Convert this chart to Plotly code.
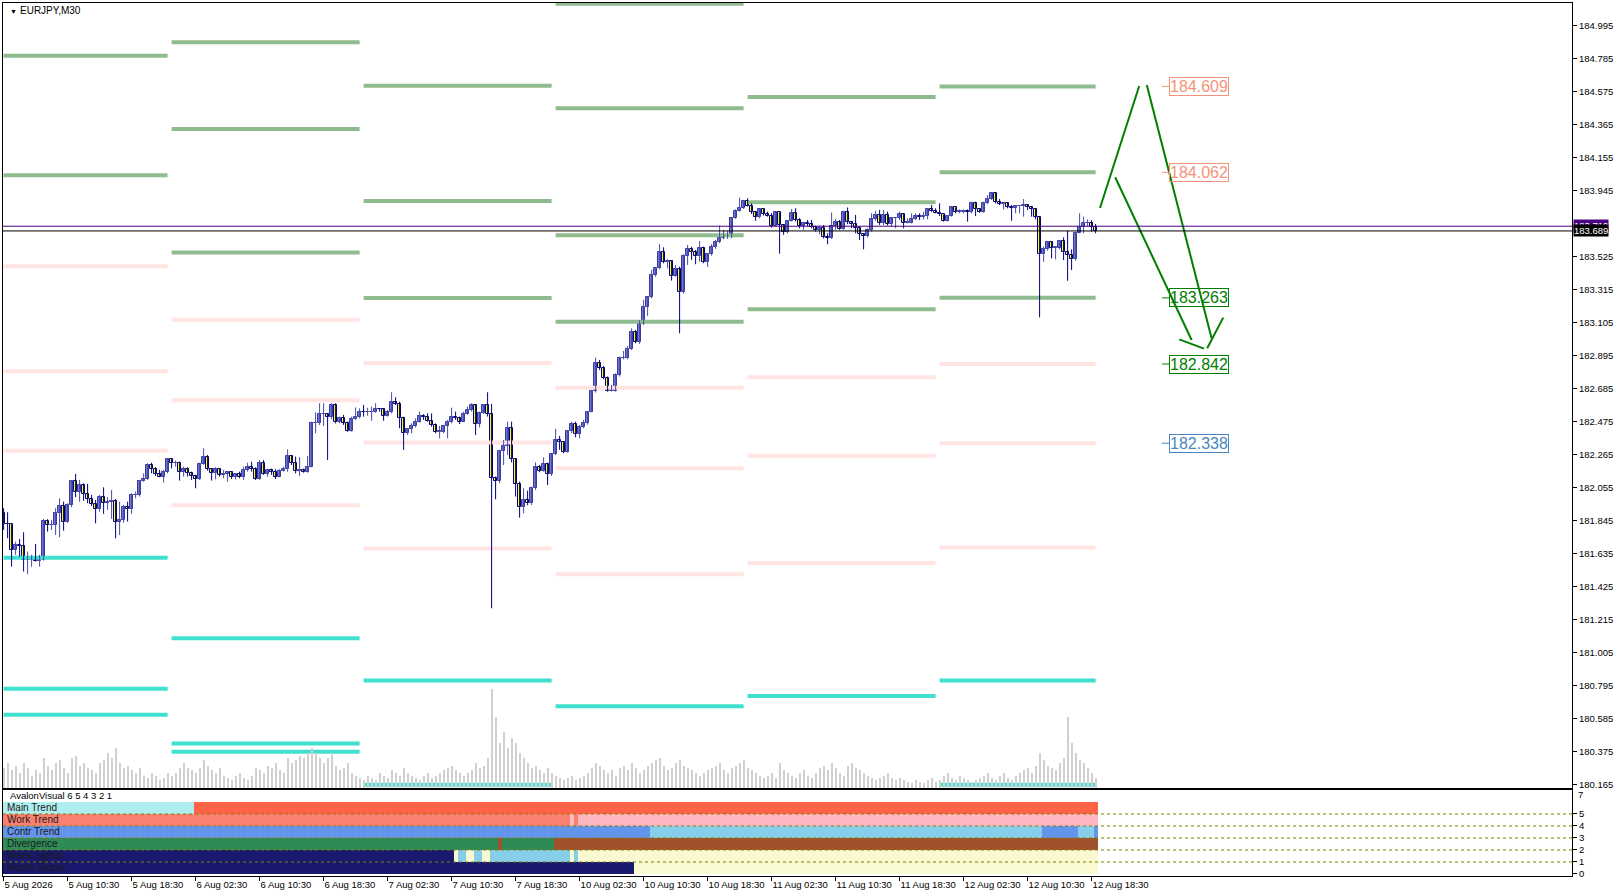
import plotly.graph_objects as go

# ---------------- data ----------------
symbol_title = "EURJPY,M30"
first_open = 181.896

close = [
 181.824, 181.822, 181.658, 181.688, 181.684, 181.595, 181.595, 181.595, 181.588, 181.595,
 181.843, 181.815, 181.815, 181.892, 181.939, 181.839, 181.943, 182.098, 182.026, 182.070,
 182.015, 181.981, 181.951, 181.917, 181.994, 181.956, 181.966, 181.970, 181.839, 181.850,
 181.934, 181.917, 182.009, 182.009, 182.098, 182.108, 182.200, 182.172, 182.140, 182.125,
 182.153, 182.236, 182.210, 182.214, 182.153, 182.172, 182.146, 182.129, 182.108, 182.206,
 182.248, 182.172, 182.146, 182.172, 182.134, 182.140, 182.153, 182.121, 182.140, 182.121,
 182.167, 182.189, 182.176, 182.108, 182.210, 182.142, 182.167, 182.157, 182.125, 182.163,
 182.174, 182.257, 182.214, 182.163, 182.167, 182.157, 182.189, 182.464, 182.464, 182.522,
 182.522, 182.507, 182.581, 182.475, 182.496, 182.464, 182.418, 182.490, 182.507, 182.539,
 182.535, 182.535, 182.539, 182.556, 182.554, 182.513, 182.539, 182.598, 182.588, 182.496,
 182.401, 182.426, 182.448, 182.475, 182.511, 182.507, 182.481, 182.454, 182.411, 182.411,
 182.448, 182.473, 182.503, 182.501, 182.475, 182.522, 182.549, 182.581, 182.458, 182.528,
 182.581, 182.522, 182.114, 182.100, 182.288, 182.320, 182.433, 182.235, 182.076, 181.930,
 181.977, 181.955, 182.055, 182.184, 182.163, 182.206, 182.140, 182.269, 182.358, 182.344,
 182.284, 182.416, 182.460, 182.395, 182.443, 182.469, 182.535, 182.670, 182.847, 182.815,
 182.751, 182.673, 182.673, 182.772, 182.878, 182.878, 182.938, 183.044, 182.984, 183.095,
 183.203, 183.267, 183.409, 183.451, 183.553, 183.490, 183.498, 183.405, 183.445, 183.303,
 183.530, 183.572, 183.558, 183.532, 183.579, 183.494, 183.541, 183.585, 183.617, 183.642,
 183.653, 183.653, 183.770, 183.816, 183.833, 183.880, 183.850, 183.808, 183.776, 183.827,
 183.795, 183.787, 183.723, 183.808, 183.727, 183.685, 183.753, 183.802, 183.759, 183.723,
 183.738, 183.732, 183.717, 183.696, 183.710, 183.653, 183.642, 183.723, 183.749, 183.702,
 183.808, 183.744, 183.732, 183.706, 183.668, 183.657, 183.696, 183.766, 183.791, 183.738,
 183.791, 183.732, 183.770, 183.770, 183.794, 183.741, 183.741, 183.763, 183.784, 183.780,
 183.784, 183.826, 183.818, 183.805, 183.794, 183.754, 183.784, 183.839, 183.811, 183.811,
 183.816, 183.807, 183.864, 183.826, 183.811, 183.864, 183.892, 183.928, 183.875, 183.860,
 183.864, 183.843, 183.833, 183.847, 183.847, 183.854, 183.843, 183.826, 183.775, 183.542,
 183.572, 183.618, 183.582, 183.582, 183.625, 183.557, 183.536, 183.508, 183.674, 183.712,
 183.737, 183.737, 183.712, 183.689,
]

high = [
 181.924, 181.898, 181.815, 181.711, 181.728, 181.771, 181.648, 181.627, 181.697, 181.627,
 181.856, 181.854, 181.850, 181.924, 181.987, 181.966, 181.956, 182.104, 182.142, 182.104,
 182.083, 182.079, 182.009, 181.977, 182.009, 182.057, 181.994, 182.040, 181.983, 181.966,
 181.945, 181.966, 182.019, 182.030, 182.104, 182.146, 182.210, 182.214, 182.185, 182.168,
 182.168, 182.242, 182.242, 182.227, 182.221, 182.189, 182.185, 182.157, 182.136, 182.214,
 182.306, 182.263, 182.178, 182.185, 182.178, 182.168, 182.157, 182.142, 182.146, 182.157,
 182.189, 182.214, 182.220, 182.184, 182.231, 182.231, 182.174, 182.176, 182.172, 182.172,
 182.189, 182.299, 182.263, 182.252, 182.248, 182.176, 182.257, 182.475, 182.535, 182.592,
 182.592, 182.528, 182.592, 182.592, 182.507, 182.518, 182.475, 182.507, 182.566, 182.560,
 182.581, 182.564, 182.571, 182.592, 182.560, 182.560, 182.549, 182.662, 182.630, 182.602,
 182.507, 182.433, 182.464, 182.496, 182.539, 182.522, 182.528, 182.528, 182.464, 182.448,
 182.454, 182.486, 182.564, 182.539, 182.507, 182.539, 182.571, 182.592, 182.586, 182.539,
 182.586, 182.662, 182.588, 182.125, 182.295, 182.358, 182.475, 182.475, 182.242, 182.093,
 182.051, 182.036, 182.061, 182.216, 182.199, 182.248, 182.214, 182.274, 182.429, 182.384,
 182.341, 182.422, 182.475, 182.475, 182.454, 182.486, 182.539, 182.677, 182.883, 182.868,
 182.830, 182.762, 182.709, 182.783, 182.889, 182.925, 182.957, 183.069, 183.059, 183.122,
 183.250, 183.271, 183.441, 183.456, 183.606, 183.585, 183.509, 183.466, 183.473, 183.462,
 183.541, 183.600, 183.589, 183.568, 183.625, 183.589, 183.547, 183.604, 183.632, 183.723,
 183.696, 183.689, 183.774, 183.827, 183.901, 183.887, 183.897, 183.865, 183.812, 183.833,
 183.833, 183.812, 183.802, 183.812, 183.780, 183.732, 183.759, 183.829, 183.833, 183.770,
 183.744, 183.759, 183.759, 183.723, 183.723, 183.727, 183.674, 183.806, 183.766, 183.759,
 183.817, 183.838, 183.749, 183.791, 183.717, 183.674, 183.706, 183.802, 183.817, 183.823,
 183.823, 183.812, 183.776, 183.776, 183.811, 183.801, 183.769, 183.801, 183.801, 183.801,
 183.811, 183.833, 183.854, 183.833, 183.864, 183.794, 183.790, 183.843, 183.839, 183.826,
 183.826, 183.826, 183.875, 183.875, 183.833, 183.875, 183.918, 183.934, 183.934, 183.892,
 183.875, 183.871, 183.854, 183.854, 183.854, 183.892, 183.848, 183.848, 183.833, 183.780,
 183.589, 183.625, 183.625, 183.593, 183.631, 183.648, 183.690, 183.572, 183.684, 183.801,
 183.780, 183.763, 183.758, 183.733,
]

low = [
 181.786, 181.733, 181.552, 181.627, 181.616, 181.521, 181.504, 181.552, 181.584, 181.552,
 181.591, 181.775, 181.786, 181.754, 181.739, 181.781, 181.832, 181.930, 181.994, 181.966,
 181.972, 181.956, 181.939, 181.828, 181.902, 181.888, 181.913, 181.856, 181.733, 181.754,
 181.832, 181.839, 181.888, 181.987, 181.998, 182.093, 182.104, 182.146, 182.129, 182.121,
 182.087, 182.146, 182.178, 182.189, 182.100, 182.125, 182.125, 182.104, 182.051, 182.104,
 182.200, 182.163, 182.100, 182.108, 182.125, 182.115, 182.093, 182.110, 182.108, 182.114,
 182.104, 182.157, 182.157, 182.104, 182.104, 182.136, 182.125, 182.136, 182.110, 182.121,
 182.157, 182.157, 182.199, 182.146, 182.129, 182.150, 182.150, 182.184, 182.401, 182.454,
 182.448, 182.231, 182.490, 182.464, 182.464, 182.454, 182.411, 182.411, 182.486, 182.496,
 182.507, 182.513, 182.481, 182.532, 182.539, 182.481, 182.507, 182.528, 182.581, 182.433,
 182.295, 182.390, 182.401, 182.439, 182.469, 182.486, 182.475, 182.443, 182.401, 182.369,
 182.401, 182.369, 182.464, 182.486, 182.460, 182.475, 182.518, 182.539, 182.390, 182.439,
 182.524, 182.507, 181.287, 181.981, 182.083, 182.199, 182.263, 182.216, 181.998, 181.864,
 181.892, 181.943, 181.945, 182.040, 182.153, 182.157, 182.072, 182.129, 182.263, 182.295,
 182.274, 182.278, 182.401, 182.375, 182.369, 182.433, 182.456, 182.535, 182.660, 182.804,
 182.745, 182.666, 182.666, 182.666, 182.762, 182.872, 182.872, 182.931, 182.974, 182.970,
 183.091, 183.148, 183.260, 183.398, 183.445, 183.483, 183.451, 183.373, 183.398, 183.038,
 183.290, 183.473, 183.505, 183.477, 183.494, 183.483, 183.460, 183.532, 183.575, 183.611,
 183.636, 183.638, 183.642, 183.766, 183.812, 183.829, 183.844, 183.797, 183.753, 183.770,
 183.787, 183.780, 183.710, 183.717, 183.545, 183.664, 183.674, 183.749, 183.749, 183.706,
 183.696, 183.717, 183.706, 183.685, 183.668, 183.642, 183.604, 183.638, 183.696, 183.696,
 183.696, 183.732, 183.706, 183.674, 183.632, 183.572, 183.647, 183.685, 183.753, 183.727,
 183.727, 183.723, 183.717, 183.706, 183.758, 183.705, 183.737, 183.737, 183.758, 183.758,
 183.763, 183.763, 183.811, 183.801, 183.784, 183.748, 183.748, 183.780, 183.801, 183.801,
 183.801, 183.748, 183.801, 183.784, 183.805, 183.805, 183.860, 183.886, 183.864, 183.854,
 183.826, 183.833, 183.754, 183.801, 183.801, 183.780, 183.822, 183.780, 183.763, 183.139,
 183.493, 183.563, 183.514, 183.508, 183.572, 183.504, 183.372, 183.440, 183.499, 183.674,
 183.674, 183.716, 183.684, 183.674,
]

volume = [
 20, 25, 18, 22, 15, 25, 20, 12, 18, 15, 30,
 22, 18, 25, 28, 20, 15, 30, 32, 22, 25,
 20, 18, 15, 25, 28, 35, 30, 40, 25, 20,
 22, 18, 15, 20, 12, 10, 15, 12, 8, 10, 15,
 12, 15, 20, 25, 20, 18, 15, 20, 28, 22, 18, 15, 20, 12, 10,
 8, 12, 15, 10, 8, 12, 20, 18, 15, 22, 20, 25, 18, 15, 30, 25, 28, 32, 30, 35,
 40, 35, 30, 25, 30, 35, 22, 18, 20, 25, 15, 12, 10, 8,
 12, 10, 8, 15, 12, 10, 18, 15, 12, 20, 15, 12, 10, 8, 12, 15, 10, 12, 15, 18,
 20, 22, 18, 15, 12, 15, 18, 25, 20, 22, 30,
 98,
 70, 45, 55, 40, 50, 45, 35, 30, 25, 20, 22, 18, 15,
 20, 15, 12, 10, 8, 10, 12, 8, 10, 12, 15, 20, 25, 22, 18,
 15, 18, 12, 20, 22, 18, 25, 20, 15, 18, 22, 25, 28, 30, 22, 18, 20, 25, 28,
 22, 20, 18, 15, 12, 15, 18, 20, 22, 25, 18, 15, 20, 22, 25, 28, 20, 18, 15, 12, 10,
 12, 15, 10, 25, 18, 15, 12, 10, 15, 18, 12, 10, 15, 20, 22, 18, 25, 20, 15, 12,
 22, 25, 20, 18, 15, 12, 10, 8, 10, 12, 15, 10, 8, 10, 8, 6, 5, 8, 6, 5, 8, 10, 6,
 8, 12, 15, 10, 8, 12, 10, 8, 6, 8, 10, 12, 15, 10, 8, 12, 15, 10, 8, 12, 15, 18, 20, 15, 22,
 35,
 28, 22, 20, 18, 25, 30, 70, 45, 35, 28, 25, 20, 15, 10,
]

time_tick_bars = [0, 16, 32, 48, 64, 80, 96, 112, 128, 144, 160, 176, 192, 208, 224, 240, 256, 272]
time_tick_labels = ["5 Aug 2026", "5 Aug 10:30", "5 Aug 18:30", "6 Aug 02:30", "6 Aug 10:30",
                    "6 Aug 18:30", "7 Aug 02:30", "7 Aug 10:30", "7 Aug 18:30", "10 Aug 02:30",
                    "10 Aug 10:30", "10 Aug 18:30", "11 Aug 02:30", "11 Aug 10:30", "11 Aug 18:30",
                    "12 Aug 02:30", "12 Aug 10:30", "12 Aug 18:30"]

price_ticks = [184.995, 184.785, 184.575, 184.365, 184.155, 183.945, 183.525, 183.315,
               183.105, 182.895, 182.685, 182.475, 182.265, 182.055, 181.845, 181.635,
               181.425, 181.215, 181.005, 180.795, 180.585, 180.375, 180.165]

# daily level sets (bar index ranges per day)
day_start = [0, 42, 90, 138, 186, 234]
day_end = [41, 89, 137, 185, 233, 273]
green_levels = [[184.805, 184.043],
                [184.890, 184.338, 183.551],
                [184.614, 183.879, 183.262],
                [185.136, 184.470, 183.662, 183.111],
                [184.542, 183.872, 183.190],
                [184.609, 184.062, 183.263]]
pink_levels = [[183.465, 182.796, 182.290],
               [183.124, 182.612, 181.943],
               [182.848, 182.343, 181.667],
               [182.691, 182.179, 181.503],
               [182.757, 182.258, 181.575],
               [182.842, 182.338, 181.674]]
turq_levels = [[181.608, 180.774, 180.610],
               [181.096, 180.426, 180.374],
               [180.827, 180.164],
               [180.663],
               [180.728],
               [180.827, 180.164]]

ask_line = 183.719
bid_line = 183.689

target_values = [184.609, 184.062, 183.263, 182.842, 182.338]
target_colors = ["#F4937A", "#F4937A", "#008000", "#008000", "#4A86C0"]

# forecast zigzag drawn to the right of the last bar (bar index, price)
forecast_segments = [((274.1, 183.835), (283.9, 184.612)),
                     ((285.8, 184.618), (302.0, 183.006)),
                     ((277.9, 184.031), (297.0, 182.995)),
                     ((293.9, 182.999), (300.1, 182.940)),
                     ((300.9, 182.942), (304.9, 183.137))]

indicator_title = "AvalonVisual 6 5 4 3 2 1"
indicator_rows = ["Main Trend", "Work Trend", "Contr Trend", "Divergence", "Week Signal", "Month Signal"]
indicator_base = [5, 4, 3, 2, 1, 0]
main_trend_runs = [("#AFEEEE", 48), ("#FF6347", 226)]
work_trend_runs = [("#FA8072", 142), ("#FFB6C1", 1), ("#FA8072", 1), ("#FFB6C1", 130)]
contr_trend_runs = [("#6495ED", 162), ("#87CEEB", 98), ("#6495ED", 9), ("#87CEEB", 4), ("#6495ED", 1)]
divergence_runs = [("#2E8B57", 124), ("#A0522D", 1), ("#2E8B57", 13), ("#A0522D", 136)]
week_signal_runs = [("#191970", 113), ("#FAFAD2", 1), ("#87CEEB", 2), ("#FAFAD2", 2), ("#87CEEB", 2),
                    ("#FAFAD2", 2), ("#87CEEB", 20), ("#FAFAD2", 1), ("#87CEEB", 1), ("#FAFAD2", 130)]
month_signal_runs = [("#191970", 158), ("#FAFAD2", 116)]
indicator_runs = [main_trend_runs, work_trend_runs, contr_trend_runs,
                  divergence_runs, week_signal_runs, month_signal_runs]
sub_levels = [1, 2, 3, 4, 5]

# ---------------- derived ----------------
n = len(close)
idx = list(range(n))
opens = [first_open] + close[:-1]
hi = [max(h, o, c) for h, o, c in zip(high, opens, close)]
lo = [min(l, o, c) for l, o, c in zip(low, opens, close)]

FONT = "Liberation Sans"
fig = go.Figure()

# volume (overlay axis)
fig.add_trace(go.Bar(x=idx, y=volume, yaxis="y3", width=0.3,
                     marker=dict(color="#D0D0D0", line=dict(width=0)), hoverinfo="skip"))

# level lines
def level_trace(levels, color, width):
    xs, ys = [], []
    for k, lv in enumerate(levels):
        for p in lv:
            xs += [day_start[k], day_end[k], None]
            ys += [p, p, None]
    return go.Scatter(x=xs, y=ys, mode="lines", line=dict(color=color, width=width),
                      hoverinfo="skip")

fig.add_trace(level_trace(pink_levels, "#FFE4E1", 4))
fig.add_trace(level_trace(green_levels, "#8FBC8F", 4))
fig.add_trace(level_trace(turq_levels, "#40E0D0", 4))

# candles: wicks
for up_flag, wcol in [(True, "#4A4AA8"), (False, "#000080")]:
    xs, ys = [], []
    for i in idx:
        if (close[i] >= opens[i]) == up_flag:
            xs += [i, i, None]
            ys += [lo[i], hi[i], None]
    fig.add_trace(go.Scatter(x=xs, y=ys, mode="lines", line=dict(color=wcol, width=1),
                             hoverinfo="skip"))

# candles: bodies
for up_flag, fcol, lcol in [(True, "#6878DA", "#3A3A98"), (False, "#FFFF00", "#000080")]:
    bx, bb, bh = [], [], []
    for i in idx:
        if (close[i] >= opens[i]) == up_flag:
            bx.append(i)
            bb.append(min(opens[i], close[i]))
            bh.append(max(abs(close[i] - opens[i]), 0.002))
    fig.add_trace(go.Bar(x=bx, y=bh, base=bb, width=0.72,
                         marker=dict(color=fcol, line=dict(color=lcol, width=1)),
                         hoverinfo="skip"))

# forecast zigzag
fx, fy = [], []
for (x0, y0), (x1, y1) in forecast_segments:
    fx += [x0, x1, None]
    fy += [y0, y1, None]
fig.add_trace(go.Scatter(x=fx, y=fy, mode="lines", line=dict(color="#008000", width=2),
                         hoverinfo="skip"))

# target label leader ticks
for v, c in zip(target_values, target_colors):
    fig.add_trace(go.Scatter(x=[289.6, 291.4], y=[v, v], mode="lines",
                             line=dict(color=c, width=1), hoverinfo="skip"))

# indicator rows
for name, base, runs in zip(indicator_rows, indicator_base, indicator_runs):
    cols = []
    for c, k in runs:
        cols += [c] * k
    fig.add_trace(go.Bar(x=idx, y=[1] * n, base=[base] * n, width=1.0,
                         xaxis="x2", yaxis="y2",
                         marker=dict(color=cols, line=dict(width=0)), hoverinfo="skip"))

shapes = []
for lv in sub_levels:
    shapes.append(dict(type="line", xref="paper", x0=0, x1=1, yref="y2", y0=lv, y1=lv,
                       line=dict(color="#808000", width=1, dash="dot"), layer="above"))
shapes.append(dict(type="line", xref="paper", x0=0, x1=1, yref="y", y0=ask_line, y1=ask_line,
                   line=dict(color="#4B0082", width=1), layer="above"))
shapes.append(dict(type="line", xref="paper", x0=0, x1=1, yref="y", y0=bid_line, y1=bid_line,
                   line=dict(color="#000000", width=1), layer="above"))

annotations = []
annotations.append(dict(xref="paper", yref="paper", x=0, y=1, xanchor="left", yanchor="top",
                        xshift=5, yshift=-3, text="▼", showarrow=False,
                        font=dict(family=FONT, size=7, color="black")))
annotations.append(dict(xref="paper", yref="paper", x=0, y=1, xanchor="left", yanchor="top",
                        xshift=15, yshift=0, text=symbol_title, showarrow=False,
                        font=dict(family=FONT, size=10, color="black")))
for v, c in zip(target_values, target_colors):
    annotations.append(dict(x=291.3, y=v, xref="x", yref="y", xanchor="left", yanchor="middle",
                            text=f"{v:.3f}", showarrow=False, bordercolor=c, borderwidth=1,
                            borderpad=0, bgcolor="rgba(255,255,255,0)",
                            font=dict(family=FONT, size=16, color=c)))
annotations.append(dict(xref="paper", yref="y", x=1, y=ask_line, xanchor="left", yanchor="middle",
                        xshift=1, yshift=1, text=f"{ask_line:.3f}", showarrow=False, bgcolor="#4B0082",
                        borderpad=0, font=dict(family=FONT, size=9.5, color="white")))
annotations.append(dict(xref="paper", yref="y", x=1, y=bid_line, xanchor="left", yanchor="middle",
                        xshift=1, text=f"{bid_line:.3f}", showarrow=False, bgcolor="#000000",
                        borderpad=0, font=dict(family=FONT, size=9.5, color="white")))
annotations.append(dict(xref="paper", yref="y2", x=0, y=6.5, xanchor="left", yanchor="middle",
                        xshift=5, yshift=1, text=indicator_title, showarrow=False,
                        font=dict(family=FONT, size=9.5, color="black")))
for name, base in zip(indicator_rows, indicator_base):
    annotations.append(dict(xref="paper", yref="y2", x=0, y=base + 0.5, xanchor="left",
                            yanchor="middle", xshift=2, text=name, showarrow=False,
                            font=dict(family=FONT, size=10, color="#1a1a1a")))
annotations.append(dict(xref="paper", yref="y2", x=1, y=6.6, xanchor="left", yanchor="middle",
                        xshift=4, text="7", showarrow=False,
                        font=dict(family=FONT, size=9.5, color="black")))

tickfont = dict(family=FONT, size=9.5, color="black")
fig.update_layout(
    width=1617, height=896,
    margin=dict(l=3, r=45, t=3, b=20, autoexpand=False),
    paper_bgcolor="white", plot_bgcolor="white",
    showlegend=False, barmode="overlay", bargap=0,
    shapes=shapes, annotations=annotations,
    xaxis=dict(domain=[0, 1], anchor="y", range=[-0.15, 392.1], showgrid=False, zeroline=False,
               showticklabels=False, ticks="", showline=True, mirror=True,
               linecolor="black", linewidth=1, fixedrange=True),
    yaxis=dict(domain=[0.1008, 1], anchor="x", range=[180.143, 185.140], side="right",
               tickvals=price_ticks, ticktext=[f"{v:.3f}" for v in price_ticks],
               ticks="outside", ticklen=4, tickcolor="black", tickfont=tickfont,
               showgrid=False, zeroline=False, showline=True, mirror=True,
               linecolor="black", linewidth=1),
    yaxis3=dict(overlaying="y", range=[0, max(volume) / 0.126], visible=False),
    xaxis2=dict(domain=[0, 1], anchor="y2", matches="x", showgrid=False, zeroline=False,
                tickvals=time_tick_bars, ticktext=time_tick_labels, ticks="outside",
                ticklen=4, tickcolor="black", ticklabelposition="outside right", tickangle=0,
                tickfont=tickfont, showline=True, mirror=True, linecolor="black", linewidth=1),
    yaxis2=dict(domain=[0, 0.0985], anchor="x2", range=[-0.17, 7.0], side="right",
                tickvals=[0, 1, 2, 3, 4, 5], ticks="outside", ticklen=4, tickcolor="black",
                tickfont=tickfont, showgrid=False, zeroline=False, showline=True,
                mirror=True, linecolor="black", linewidth=1),
)

fig.write_html("out.html", config={"displayModeBar": False},
               post_script="document.body.style.margin='0';document.body.style.padding='0';")
